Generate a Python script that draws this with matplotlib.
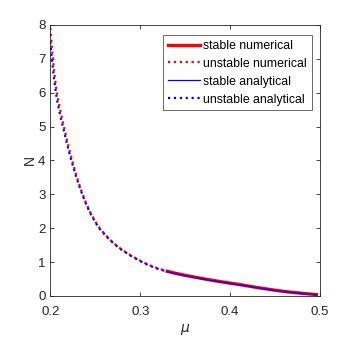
import matplotlib
matplotlib.use("Agg")
import matplotlib.pyplot as plt

# 数据
mu_unstable = [0.200, 0.202, 0.204, 0.206, 0.208, 0.210, 0.213, 0.216, 0.219,
               0.222, 0.225, 0.228, 0.231, 0.234, 0.237, 0.240, 0.245, 0.250,
               0.255, 0.260, 0.265, 0.270, 0.275, 0.280, 0.290, 0.300, 0.310,
               0.320, 0.330]
n_unstable_num = [7.91, 7.28, 6.70, 6.25, 5.90, 5.62, 5.25, 4.90, 4.55,
                  4.23, 3.93, 3.65, 3.39, 3.15, 2.93, 2.73, 2.44, 2.20,
                  2.00, 1.84, 1.70, 1.57, 1.46, 1.36, 1.19, 1.04, 0.91,
                  0.81, 0.73]
n_unstable_ana = [7.50, 6.95, 6.45, 6.05, 5.72, 5.46, 5.11, 4.78, 4.45,
                  4.14, 3.86, 3.59, 3.34, 3.11, 2.90, 2.70, 2.42, 2.18,
                  1.98, 1.83, 1.69, 1.56, 1.45, 1.35, 1.18, 1.03, 0.90,
                  0.80, 0.72]

mu_stable = [0.330, 0.340, 0.350, 0.360, 0.370, 0.380, 0.390, 0.400, 0.410,
             0.420, 0.430, 0.440, 0.450, 0.460, 0.470, 0.480, 0.490, 0.496]
n_stable_num = [0.73, 0.665, 0.61, 0.56, 0.51, 0.465, 0.42, 0.38, 0.34,
                0.295, 0.25, 0.21, 0.17, 0.135, 0.105, 0.08, 0.055, 0.04]
n_stable_ana = [0.72, 0.655, 0.60, 0.55, 0.50, 0.455, 0.41, 0.37, 0.33,
                0.29, 0.245, 0.205, 0.165, 0.13, 0.10, 0.075, 0.05, 0.035]

plt.rcParams['font.family'] = ['Liberation Sans', 'DejaVu Sans']

fig = plt.figure(figsize=(3.6, 3.41), dpi=100)
ax = fig.add_axes([0.1397, 0.132, 0.7492, 0.7947])

ax.plot(mu_stable, n_stable_num, color='red', lw=2.4, label='stable numerical')
ax.plot(mu_unstable, n_unstable_num, color='red', lw=1.6, ls=':', label='unstable numerical')
ax.plot(mu_stable, n_stable_ana, color='blue', lw=0.9, label='stable analytical')
ax.plot(mu_unstable, n_unstable_ana, color='blue', lw=1.6, ls=':', label='unstable analytical')

ax.set_xlim(0.2, 0.5)
ax.set_ylim(0, 8)
ax.set_xticks([0.2, 0.3, 0.4, 0.5])
ax.set_yticks(range(0, 9))
ax.tick_params(direction='in', top=True, right=True, length=3,
               labelsize=9.5, colors='#262626', width=0.6)
ax.tick_params(axis='x', pad=7)
for s in ax.spines.values():
    s.set_color('#262626')
    s.set_linewidth(0.6)

ax.set_xlabel(r'$\mu$', fontsize=10, color='#262626', labelpad=3)
ax.set_ylabel('N', fontsize=10, color='#262626', labelpad=0.5)

leg = ax.legend(loc='upper right', bbox_to_anchor=(0.970, 0.963),
                fontsize=8.8, frameon=True, fancybox=False,
                edgecolor='#262626', handlelength=2.6, handletextpad=0.3,
                borderpad=0.4, labelspacing=0.48, borderaxespad=0.0)
leg.get_frame().set_linewidth(0.6)

fig.savefig('out.png', dpi=100)
